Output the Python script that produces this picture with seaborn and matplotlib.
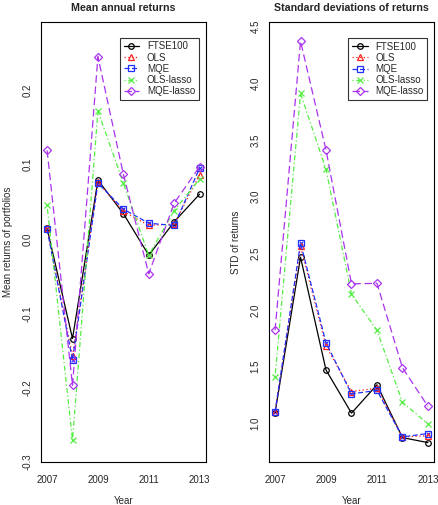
import numpy as np
import pandas as pd
import matplotlib
matplotlib.use("Agg")
import matplotlib.pyplot as plt
import seaborn as sns

years = [2007, 2008, 2009, 2010, 2011, 2012, 2013]
methods = ["FTSE100", "OLS", "MQE", "OLS-lasso", "MQE-lasso"]

# mean annual returns
mean_ftse = [0.014, -0.134, 0.079, 0.034, -0.022, 0.023, 0.060]
mean_ols = [0.014, -0.158, 0.076, 0.037, 0.018, 0.020, 0.086]
mean_mqe = [0.013, -0.163, 0.075, 0.040, 0.021, 0.018, 0.095]
mean_ols_lasso = [0.045, -0.271, 0.172, 0.075, -0.022, 0.038, 0.080]
mean_mqe_lasso = [0.119, -0.197, 0.245, 0.087, -0.047, 0.048, 0.097]

# standard deviations of returns
std_ftse = [1.094, 2.465, 1.47, 1.09, 1.34, 0.874, 0.83]
std_ols = [1.10, 2.56, 1.68, 1.28, 1.31, 0.88, 0.89]
std_mqe = [1.10, 2.59, 1.71, 1.26, 1.29, 0.88, 0.91]
std_ols_lasso = [1.41, 3.91, 3.24, 2.14, 1.82, 1.185, 0.995]
std_mqe_lasso = [1.82, 4.37, 3.41, 2.23, 2.235, 1.49, 1.15]

left_yticks = [-0.3, -0.2, -0.1, 0.0, 0.1, 0.2]
left_ylabels = ["-0.3", "-0.2", "-0.1", "0.0", "0.1", "0.2"]
right_yticks = [1.0, 1.5, 2.0, 2.5, 3.0, 3.5, 4.0, 4.5]
right_ylabels = ["1.0", "1.5", "2.0", "2.5", "3.0", "3.5", "4.0", "4.5"]
xtick_labels = ["2007", "", "2009", "", "2011", "", "2013"]

def to_long(cols):
    rows = []
    for m, vals in zip(methods, cols):
        for y, v in zip(years, vals):
            rows.append({"Year": y, "method": m, "value": v})
    return pd.DataFrame(rows)

df_mean = to_long([mean_ftse, mean_ols, mean_mqe, mean_ols_lasso, mean_mqe_lasso])
df_std = to_long([std_ftse, std_ols, std_mqe, std_ols_lasso, std_mqe_lasso])

sns.set_style("white")
plt.rcParams['font.family'] = ['Liberation Sans', 'DejaVu Sans']

styles = {
    "FTSE100": dict(color="black", marker="o", dashes=None, ms=4),
    "OLS": dict(color="#ff2020", marker="^", dashes=(1, 2), ms=4.2),
    "MQE": dict(color="#2030ff", marker="s", dashes=(4, 2), ms=3.8),
    "OLS-lasso": dict(color="#55ee44", marker="x", dashes=(1, 2, 4, 2), ms=4.2),
    "MQE-lasso": dict(color="#aa33ee", marker="D", dashes=(6, 3), ms=4.2),
}

fig = plt.figure(figsize=(4.38, 5.05), dpi=100)
ax1 = fig.add_axes([0.0936, 0.0851, 0.376, 0.872])
ax2 = fig.add_axes([0.614, 0.0845, 0.377, 0.872])

def draw(ax, df, yticks, ylabels, ylim, title, ylabel):
    for m in methods:
        st = styles[m]
        sub = df[df["method"] == m]
        sns.lineplot(data=sub, x="Year", y="value", ax=ax, color=st["color"],
                     lw=0.9, marker=st["marker"], markersize=st["ms"],
                     markerfacecolor="none", markeredgecolor=st["color"],
                     markeredgewidth=0.9, label=m, legend=False)
        line = ax.get_lines()[-1]
        if st["dashes"] is not None:
            line.set_dashes(st["dashes"])
        if m == "MQE":
            # R's square-with-cross symbol
            sns.scatterplot(data=sub, x="Year", y="value", ax=ax, marker="x",
                            color=st["color"], s=7, linewidth=0.8, legend=False)
    ax.set_xlim(2006.76, 2013.24)
    ax.set_ylim(*ylim)
    ax.set_xticks(years)
    ax.set_xticklabels(xtick_labels, fontsize=7)
    ax.set_yticks(yticks)
    ax.set_yticklabels(ylabels, fontsize=7, rotation=90, va="center")
    ax.tick_params(direction="out", length=4, width=0.7, color="black", pad=2)
    ax.tick_params(axis="x", pad=5)
    for s in ax.spines.values():
        s.set_color("black")
        s.set_linewidth(0.8)
    ax.set_title(title, fontsize=7.7, fontweight="bold", pad=8)
    ax.set_xlabel("Year", fontsize=7, labelpad=8)
    ax.set_ylabel(ylabel, fontsize=7, labelpad=7)
    leg = ax.legend(loc="upper right", bbox_to_anchor=(0.96, 0.964), fontsize=7,
                    frameon=True, fancybox=False, handlelength=1.6,
                    borderpad=0.4, labelspacing=0.12, handletextpad=0.8,
                    borderaxespad=0)
    leg.get_frame().set_edgecolor("black")
    leg.get_frame().set_linewidth(0.8)

draw(ax1, df_mean, left_yticks, left_ylabels, (-0.300, 0.292),
     "Mean annual returns", "Mean returns of portfolios")
draw(ax2, df_std, right_yticks, right_ylabels, (0.656, 4.54),
     "Standard deviations of returns", "STD of returns")

fig.savefig("out.png", dpi=100)
